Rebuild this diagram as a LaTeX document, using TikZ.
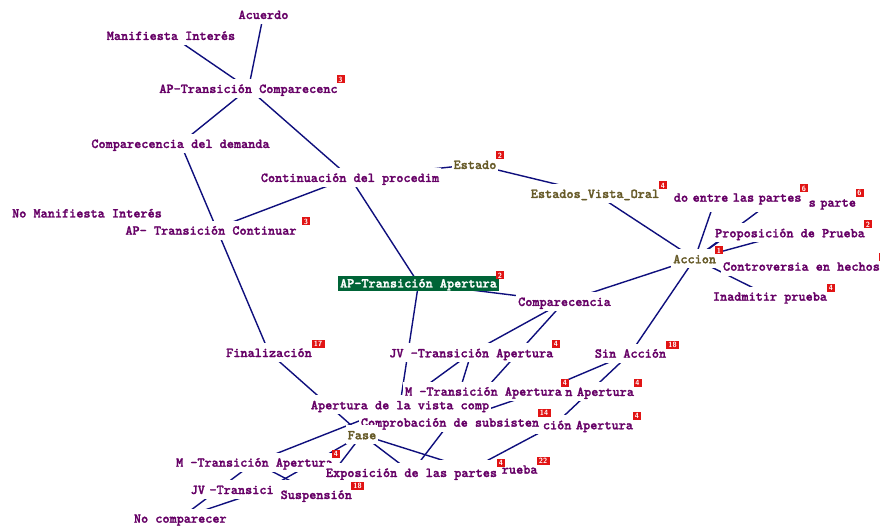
\documentclass[tikz,border=0pt]{standalone}
\usepackage{fontspec}
\newfontfamily\lblfont{lmmonolt10-bold.otf}[FakeBold=1.6]
\usetikzlibrary{backgrounds}
\definecolor{lblpurple}{RGB}{102,0,102}
\definecolor{lblolive}{RGB}{102,90,40}
\definecolor{edgeblue}{RGB}{15,15,125}
\definecolor{badgered}{RGB}{225,20,20}
\definecolor{selgreen}{RGB}{0,100,55}
\pgfdeclarelayer{edgelayer}
\pgfsetlayers{background,edgelayer,main}
\tikzset{
 lbl/.style={anchor=base, fill=white, inner xsep=2bp, inner ysep=2bp, text height=12bp, text depth=3bp,
   font=\lblfont\fontsize{13.58bp}{14bp}\selectfont, text=lblpurple},
 olivelbl/.style={lbl, text=lblolive},
 sellbl/.style={lbl, fill=selgreen, text=white, text height=9.5bp, text depth=1.5bp},
 partr/.style={lbl, text width=#1, align=right},
 partl/.style={lbl, text width=#1, align=left},
 badge/.style={fill=badgered, text=white, inner sep=0pt, minimum width=8bp, minimum height=8bp,
   font=\sffamily\bfseries\fontsize{7.5bp}{8bp}\selectfont},
 badgetwo/.style={badge, minimum width=13bp},
 link/.style={draw=edgeblue, line width=1.4bp},
}
\begin{document}
\begin{tikzpicture}[x=1bp,y=-1bp]
\begin{pgfonlayer}{background}
\fill[white] (0,0) rectangle (880,527);
\end{pgfonlayer}
\useasboundingbox (0,0) rectangle (880,527);

\node[lbl] (acuerdo) at (263.5,19) {Acuerdo};
\node[lbl] (manif) at (171,40) {Manifiesta Interés};
\node[lbl] (apcomp) at (248.5,93) {AP-Transición Comparecenc};
\node[badge] (b1) at (340.5,79.5) {3};
\node[lbl] (compdem) at (180.5,148) {Comparecencia del demanda};
\node[lbl] (contproc) at (350,182) {Continuación del procedim};
\node[olivelbl] (estado) at (475,169) {Estado};
\node[badge] (b2) at (500,155.5) {2};
\node[lbl] (nomanif) at (87,217.5) {No Manifiesta Interés};
\node[lbl] (apcont) at (211,234.7) {AP- Transición Continuar};
\node[badge] (b3) at (306,221.5) {3};
\node[sellbl] (apaper) at (418.5,287.5) {AP-Transición Apertura};
\node[badge] (b4) at (500,275.5) {2};
\node[lbl] (compar) at (564.5,306) {Comparecencia};
\node[partr=171bp] (sparte) at (770.5,206.7) {s parte};
\node[badge] (b5) at (859.5,193) {6};
\node[partr=171bp] (acuerdo2) at (716,201.7) {do entre las partes};
\node[badge] (b6) at (804,188.5) {6};
\node[olivelbl] (evo) at (595,198) {Estados\_Vista\_Oral};
\node[badge] (b7) at (663,185.5) {4};
\node[lbl] (propos) at (790,237.3) {Proposición de Prueba};
\node[badge] (b8) at (868,224.5) {2};
\coordinate (hprop) at (731,233);
\node[olivelbl] (accion) at (694.7,263.3) {Accion};
\node[badge] (b9) at (719,250.5) {1};
\node[lbl] (controv) at (801.5,270.7) {Controversia en hechos};
\node[badge] (b10) at (883,257) {};
\node[lbl] (inadm) at (770,300.7) {Inadmitir prueba};
\node[badge] (b11) at (831,288) {4};
\node[lbl] (sinacc) at (630.5,357.7) {Sin Acción};
\node[badgetwo] (b12) at (672.5,345) {18};
\node[lbl] (final) at (269,357) {Finalización};
\node[badgetwo] (b13) at (318,343.5) {17};
\node[lbl] (jvap) at (471.3,357.3) {JV -Transición Apertura};
\node[badge] (b14) at (556,343.7) {4};
\node[partr=188bp] (napert) at (540,396) {n Apertura};
\node[badge] (b15) at (637.5,382.5) {4};
\node[lbl] (avc) at (400,409.3) {Apertura de la vista comp};
\node[lbl] (map) at (483.5,395.7) {M -Transición Apertura};
\node[badge] (b16) at (565,382.5) {4};
\node[partr=157bp] (cionap) at (554.5,429.3) {ción Apertura};
\node[badge] (b17) at (637,416) {4};
\node[lbl] (comprob) at (450,426.7) {Comprobación de subsisten};
\node[badgetwo] (b18) at (544,413) {14};
\node[olivelbl] (fase) at (362,439.3) {Fase};
\node[partr=133bp] (rueba) at (471,473.7) {rueba};
\node[badgetwo] (b19) at (543,460.7) {22};
\node[lbl] (mapb) at (254.5,466.7) {M -Transición Apertura};
\node[badge] (b20) at (336,454) {4};
\node[lbl] (expos) at (411.5,477) {Exposición de las partes};
\node[badge] (b21) at (501,463.3) {4};
\node[partl=150.6bp] (jvb) at (266,494) {JV -Transici};
\node[lbl] (susp) at (316.3,499) {Suspensión};
\node[badgetwo] (b22) at (357.5,486) {18};
\node[lbl] (nocomp) at (180.3,522.7) {No comparecer};

\begin{pgfonlayer}{edgelayer}
\foreach \a/\b in {acuerdo/apcomp, manif/apcomp, apcomp/compdem, apcomp/contproc,
  compdem/final, contproc/apcont, contproc/apaper, contproc/estado, estado/evo,
  evo/accion, accion/acuerdo2, accion/sparte, accion/hprop, accion/propos,
  accion/inadm, accion/compar, accion/sinacc, apaper/compar, apaper/avc,
  compar/jvap, compar/map, jvap/avc, jvap/comprob, comprob/napert,
  sinacc/napert, sinacc/cionap, cionap/rueba, fase/rueba, fase/expos,
  expos/comprob, final/fase, mapb/avc, mapb/susp, nocomp/mapb, nocomp/jvb,
  jvb/fase, susp/fase}
  \draw[link] (\a.center) -- (\b.center);
\end{pgfonlayer}
\end{tikzpicture}
\end{document}
